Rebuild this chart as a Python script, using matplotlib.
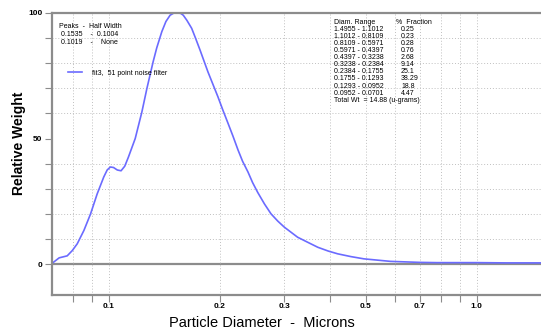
import numpy as np
import matplotlib.pyplot as plt
from matplotlib.ticker import FixedLocator, NullFormatter, FixedFormatter

plt.rcParams['font.family'] = ['Liberation Sans', 'DejaVu Sans']

# particle size distribution
diam = [0.0701, 0.0733, 0.0771, 0.0796, 0.0821, 0.0856, 0.0892, 0.0930, 0.0969,
        0.0990, 0.1010, 0.1030, 0.1055, 0.1080, 0.1105, 0.1130, 0.1180, 0.1230,
        0.1270, 0.1320, 0.1350, 0.1394, 0.1430, 0.1468, 0.1500, 0.1535, 0.1570,
        0.1594, 0.1630, 0.1680, 0.1720, 0.1770, 0.1860, 0.1980, 0.2040, 0.2110,
        0.2175, 0.2245, 0.2310, 0.2390, 0.2460, 0.2540, 0.2650, 0.2760, 0.2880,
        0.3000, 0.3260, 0.3450, 0.3700, 0.3950, 0.4190, 0.4550, 0.4940, 0.5830,
        0.7000, 0.7800, 1.0000, 1.2000, 1.4955]
weight = [0.4, 2.6, 3.4, 5.5, 8.2, 13.5, 20.0, 28.0, 34.7,
          37.5, 38.7, 38.5, 37.5, 37.2, 39.0, 42.5, 50.0, 60.5,
          70.0, 80.5, 86.0, 92.5, 96.5, 99.0, 99.8, 100.0, 99.7,
          99.0, 97.0, 93.8, 90.0, 85.2, 76.5, 66.6, 61.5, 56.0,
          51.0, 45.5, 41.0, 36.7, 32.5, 28.6, 24.0, 20.1, 17.2,
          14.8, 10.8, 9.0, 6.8, 5.3, 4.2, 3.1, 2.2, 1.2,
          0.8, 0.7, 0.7, 0.6, 0.6]

x_ticks = [0.08, 0.09, 0.1, 0.2, 0.3, 0.4, 0.5, 0.6, 0.7, 0.8, 0.9, 1.0]
x_labeled = {0.1: '0.1', 0.2: '0.2', 0.3: '0.3', 0.5: '0.5', 0.7: '0.7', 1.0: '1.0'}
y_major = [0, 50, 100]
y_minor = [10, 20, 30, 40, 60, 70, 80, 90]

peaks = ['Peaks  -  Half Width', ' 0.1535    -  0.1004', ' 0.1019    -    None']
ranges = ['1.4955 - 1.1012', '1.1012 - 0.8109', '0.8109 - 0.5971', '0.5971 - 0.4397',
          '0.4397 - 0.3238', '0.3238 - 0.2384', '0.2384 - 0.1755', '0.1755 - 0.1293',
          '0.1293 - 0.0952', '0.0952 - 0.0701']
fractions = ['0.25', '0.23', '0.28', '0.76', '2.68', '9.14', '25.1', '38.29', '18.8', '4.47']
total_wt = 'Total Wt  = 14.88 (u-grams)'

W, H = 541, 329
fig = plt.figure(figsize=(W / 100, H / 100), dpi=100)
ax_h = 294.6 - 12.7
ax_w = W - 52
ax = fig.add_axes([52 / W, 1 - 294.6 / H, ax_w / W, ax_h / H])

blue = '#6b6bff'
ax.plot(diam, weight, color=blue, lw=1.2, label='fit3,  51 point noise filter')

ax.set_xscale('log')
ax.set_xlim(0.0701, 1.4955)
ax.set_ylim(-12, 100)

ax.xaxis.set_major_locator(FixedLocator(x_ticks))
ax.xaxis.set_major_formatter(FixedFormatter([x_labeled.get(t, '') for t in x_ticks]))
ax.xaxis.set_minor_locator(FixedLocator([]))
ax.xaxis.set_minor_formatter(NullFormatter())
ax.yaxis.set_major_locator(FixedLocator(y_major))
ax.yaxis.set_minor_locator(FixedLocator(y_minor))

gray = '#8c8c8c'
ax.tick_params(axis='both', which='both', direction='out', color=gray, width=0.8)
ax.tick_params(axis='x', length=5, labelsize=6, pad=1)
ax.tick_params(axis='y', which='major', length=5, labelsize=6, pad=2)
ax.tick_params(axis='y', which='minor', length=5)
for lbl in ax.get_xticklabels() + ax.get_yticklabels():
    lbl.set_fontweight('bold')

ax.grid(True, axis='x', which='major', color='#c0c0c0', ls=(0, (1, 2)), lw=0.7)
ax.grid(True, axis='y', which='minor', color='#c0c0c0', ls=(0, (1, 2)), lw=0.7)

ax.spines['right'].set_visible(False)
for s in ['left', 'top', 'bottom']:
    ax.spines[s].set_color(gray)
    ax.spines[s].set_linewidth(1.6)
ax.axhline(0, color=gray, lw=1.6, zorder=1)

ax.set_xlabel('Particle Diameter  -  Microns', fontsize=10.5, va='center')
ax.xaxis.set_label_coords((262 - 52) / ax_w, -(323 - 294.6) / ax_h)
ax.set_ylabel('Relative Weight', fontsize=10, fontweight='bold', va='center')
ax.yaxis.set_label_coords(-(52 - 19) / ax_w, (294.6 - 143) / ax_h)

ax.legend(loc='upper left', bbox_to_anchor=(0.02, 0.82), frameon=False,
          fontsize=5, handlelength=2.0, handletextpad=1.4)

# peaks summary
for i, line in enumerate(peaks):
    fig.text(59 / W, 1 - (27 + i * 8) / H, line, fontsize=5, va='center', ha='left')

# size fraction table
fig.text(334 / W, 1 - 22 / H, 'Diam. Range', fontsize=5, va='center')
fig.text(396 / W, 1 - 22 / H, '%  Fraction', fontsize=5, va='center')
for i, (r, f) in enumerate(zip(ranges, fractions)):
    yy = 1 - (29.2 + i * 7.1) / H
    fig.text(334 / W, yy, r, fontsize=5, va='center')
    fig.text(401 / W, yy, f, fontsize=5, va='center')
fig.text(334 / W, 1 - (29.2 + 10 * 7.1) / H, total_wt, fontsize=5, va='center')

fig.savefig('out.png', dpi=100)
